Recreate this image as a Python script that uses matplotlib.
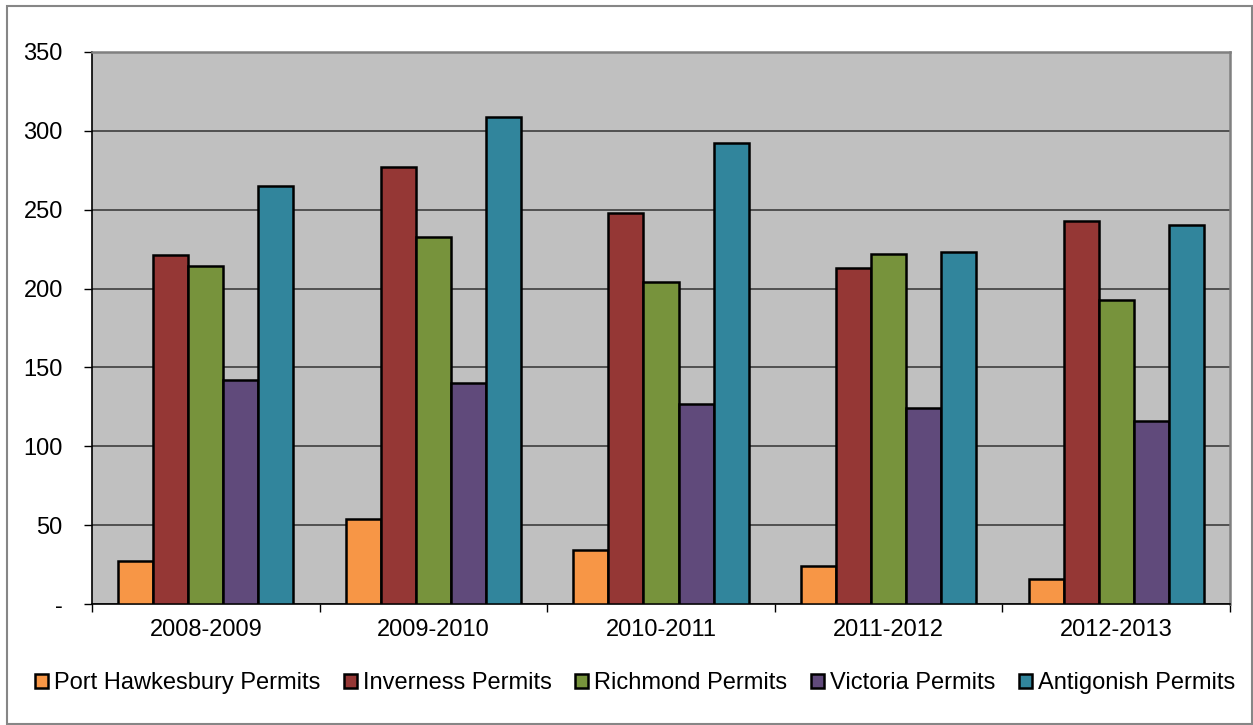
import numpy as np
import matplotlib.pyplot as plt
from matplotlib.patches import Rectangle

plt.rcParams['font.family'] = ['Liberation Sans', 'DejaVu Sans']

years = ['2008-2009', '2009-2010', '2010-2011', '2011-2012', '2012-2013']
port_hawkesbury = [27, 54, 34, 24, 16]
inverness = [221, 277, 248, 213, 243]
richmond = [214, 233, 204, 222, 193]
victoria = [142, 140, 127, 124, 116]
antigonish = [265, 309, 292, 223, 240]

series_names = ['Port Hawkesbury Permits', 'Inverness Permits', 'Richmond Permits',
                'Victoria Permits', 'Antigonish Permits']
colors = ['#F79646', '#953735', '#77933C', '#604A7B', '#31859C']
y_ticks = [0, 50, 100, 150, 200, 250, 300, 350]
y_labels = ['-', '50', '100', '150', '200', '250', '300', '350']

W, H = 1253, 725
fig = plt.figure(figsize=(W / 100, H / 100), dpi=100)
ax = fig.add_axes([92 / W, 1 - 604 / H, 1138 / W, 552 / H])

# outer chart border
fig.patches.append(Rectangle((6.5 / W, 1 / H), 1245 / W, 718 / H,
                             transform=fig.transFigure, fill=False,
                             edgecolor='#868686', linewidth=1.5))

x = np.arange(len(years))
n = len(series_names)
width = 1.0 / (n + 1.5)
all_series = [port_hawkesbury, inverness, richmond, victoria, antigonish]
for i, (vals, name, c) in enumerate(zip(all_series, series_names, colors)):
    offs = (i - (n - 1) / 2) * width
    ax.bar(x + offs, vals, width, color=c, edgecolor='black', linewidth=1.8,
           label=name, zorder=3)

ax.set_facecolor('#C0C0C0')
ax.set_xlim(-0.5, len(years) - 0.5)
ax.set_ylim(0, 350)
ax.set_yticks(y_ticks)
ax.set_yticklabels(y_labels)
ax.yaxis.grid(True, color='#333333', linewidth=1.1, zorder=1)
ax.set_axisbelow(True)

ax.set_xticks(x)
ax.set_xticklabels(years)
ax.set_xticks(np.arange(-0.5, len(years)), minor=True)
ax.tick_params(axis='x', which='major', length=0, pad=11, labelsize=17)
ax.tick_params(axis='x', which='minor', length=6, width=1, direction='out')
ax.tick_params(axis='y', length=6, width=1, direction='out', pad=15, labelsize=17)

for side in ['top', 'right']:
    ax.spines[side].set_color('#808080')
    ax.spines[side].set_linewidth(1.8)
for side in ['left', 'bottom']:
    ax.spines[side].set_color('black')
    ax.spines[side].set_linewidth(1.2)

leg = fig.legend(loc='center', bbox_to_anchor=(635 / W, 1 - 683 / H), ncol=n,
                 frameon=False, fontsize=17, handlelength=0.55, handleheight=0.55,
                 handletextpad=0.25, columnspacing=1.0, borderaxespad=0,
                 borderpad=0)
for h in leg.legend_handles:
    h.set_linewidth(1.8)

fig.savefig('out.png', dpi=100)
